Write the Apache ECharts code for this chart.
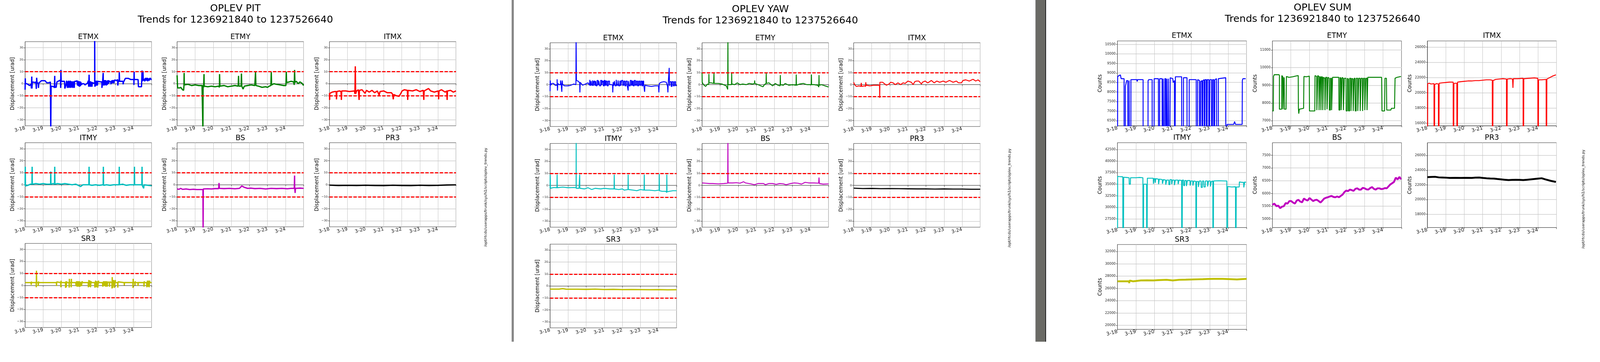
<!DOCTYPE html>
<html>
<head>
<meta charset="utf-8">
<script src="https://cdn.jsdelivr.net/npm/echarts@6/dist/echarts.min.js"></script>
<style>
html,body{margin:0;padding:0;background:#fff;overflow:hidden}
</style>
</head>
<body>
<div id="main"></div>
<script>
// labels / names
var dayLabels = ['3-18','3-19','3-20','3-21','3-22','3-23','3-24'];
var optics = ['ETMX','ETMY','ITMX','ITMY','BS','PR3','SR3'];
var opticColors = ['#0000ff','#008000','#ff0000','#00bfbf','#bf00bf','#000000','#bfbf00'];
var dofNames = ['PIT','YAW','SUM'];
var gpsStart = 1236921840, gpsEnd = 1237526640;
var scriptPath = '/opt/rtcds/userapps/trunk/sys/h1/scripts/oplev_trends.py';
var limitLines = [10, -10];
var dispRange = [-35, 35];
var dispTicks = [-30, -20, -10, 0, 10, 20, 30];
var sumMin = [6230, 6715, 15660, 25640, 4660, 16190, 19340];
var sumMax = [10680, 11506, 26810, 43960, 7990, 27740, 33140];
var sumStep = [500, 1000, 2000, 2500, 500, 2000, 2000];

// ---- PIT [day, urad] ----
var pitEtmx = [[0,-5],[0.01,4.5],[0.02,0],[0.1,0],[0.25,-1.5],[0.33,-0.5],[0.35,-0.5],[0.35,-4],[0.37,-4],[0.37,6],[0.38,6],[0.38,-4],[0.39,-4],[0.4,1.5],[0.55,1],[0.6,1.5],[0.62,1.5],[0.62,-4.3],[0.63,-4.3],[0.64,5],[0.65,5],[0.66,1],[0.72,0.5],[0.74,0.5],[0.74,-3.5],[0.75,-3.5],[0.76,0.5],[0.9,2.5],[1.1,2.5],[1.2,0.8],[1.33,0.8],[1.4,1.5],[1.42,1.5],[1.42,-40],[1.44,-40],[1.44,-2],[1.6,-2.5],[1.62,-3.5],[1.64,-3.5],[1.64,6.5],[1.65,6.5],[1.65,-3],[1.72,-3],[1.76,1.5],[1.95,3],[1.97,3],[1.97,-3.5],[1.98,-3.5],[1.98,11.5],[1.99,11.5],[2.0,2],[2.18,2],[2.2,2],[2.2,-4],[2.24,-4],[2.26,-1],[2.3,2.5],[2.34,2.5],[2.34,-3.5],[2.36,-3.5],[2.36,2],[2.38,2],[2.38,-3],[2.41,-3],[2.41,2.5],[2.43,2.5],[2.43,-3.5],[2.45,-3.5],[2.45,2],[2.48,2],[2.48,-3],[2.5,-3],[2.5,2.5],[2.53,2.5],[2.53,-3.5],[2.55,-3.5],[2.55,2],[2.58,2],[2.58,-3],[2.6,-3],[2.6,2],[2.64,2],[2.64,-3.5],[2.66,-3.5],[2.66,1.5],[2.72,1.5],[2.72,-3.5],[2.74,-3.5],[2.74,2],[2.8,2],[2.87,2.5],[2.9,2.5],[2.9,-1.5],[2.92,-1.5],[2.92,2.5],[2.96,2.5],[2.96,-2],[2.98,-2],[2.98,2],[3.01,2],[3.01,-2.5],[3.03,-2.5],[3.03,2],[3.06,2],[3.06,-2],[3.08,-2],[3.08,1.5],[3.12,1.5],[3.12,-1],[3.14,-1],[3.16,0],[3.25,0],[3.32,-1],[3.45,0.5],[3.5,2.5],[3.52,2.5],[3.52,-2.5],[3.53,-2.5],[3.54,7.5],[3.55,7.5],[3.56,-2],[3.57,-2],[3.57,2],[3.6,2],[3.6,-2.5],[3.62,-2.5],[3.62,2],[3.65,2],[3.65,-2.5],[3.67,-2.5],[3.67,1.5],[3.7,1.5],[3.7,-2.5],[3.72,-2.5],[3.72,1],[3.78,0.5],[3.85,0.5],[3.85,40],[3.86,40],[3.86,-2.5],[3.87,-2.5],[3.87,2],[3.9,2],[3.9,-2],[3.92,-2],[3.92,2.5],[3.95,2.5],[3.95,-1.5],[3.97,-1.5],[3.97,2.5],[4.0,2.5],[4.0,-1.5],[4.02,-1.5],[4.02,2],[4.2,1.5],[4.25,1.5],[4.25,-3.5],[4.27,-3.5],[4.28,0],[4.32,0],[4.32,9],[4.33,9],[4.33,-1.5],[4.35,-1.5],[4.35,3],[4.38,3],[4.38,-1.5],[4.4,-1.5],[4.4,3],[4.43,3],[4.43,-1],[4.45,-1],[4.45,3],[4.49,3],[4.49,-1.5],[4.51,-1.5],[4.51,2.5],[4.55,2.5],[4.55,-1],[4.57,-1],[4.57,2.5],[4.62,2.5],[4.62,0],[4.64,0],[4.64,2.5],[4.7,1.5],[4.75,1.5],[4.75,-0.5],[4.77,-0.5],[4.77,2.5],[4.8,2.5],[4.8,0.5],[4.82,0.5],[4.82,3],[4.86,3],[4.86,0.5],[4.88,0.5],[4.88,3],[4.92,3],[4.92,0.5],[4.94,0.5],[4.94,3],[5.0,3],[5.05,2.5],[5.12,3.5],[5.13,3.5],[5.13,-1.5],[5.15,-1.5],[5.15,2],[5.2,2],[5.21,9.5],[5.22,9.5],[5.23,2],[5.35,2],[5.42,2],[5.42,-0.5],[5.45,-0.5],[5.45,1.5],[5.55,4.5],[5.7,4.5],[5.85,3.5],[6.02,3.5],[6.02,-1],[6.03,-1],[6.03,10],[6.04,10],[6.04,3.5],[6.2,3.5],[6.25,3.5],[6.27,-2.5],[6.44,-2.5],[6.45,1.5],[6.47,1.5],[6.47,11],[6.49,11],[6.49,2],[6.52,2],[6.52,10.5],[6.54,10.5],[6.54,2.5],[6.58,2.5],[6.58,4],[6.62,4],[6.62,2],[6.65,2],[6.65,4.5],[6.7,4.5],[6.7,2.5],[6.73,2.5],[6.73,4.5],[6.78,4.5],[6.78,2],[6.81,2],[6.81,4],[6.86,4],[6.86,2.5],[6.9,2.5],[6.9,4.5],[6.95,4.5],[6.95,3.5],[7.0,3.5]];
var pitEtmy = [[0,7],[0.03,-3.5],[0.15,-3.5],[0.2,-3],[0.3,-5],[0.36,-5.5],[0.38,-2],[0.39,9],[0.4,-1],[0.6,-0.5],[0.8,-1.5],[1.0,-1],[1.2,-1.5],[1.38,-1.5],[1.42,-1],[1.43,-40],[1.44,-1],[1.47,-3],[1.49,8],[1.5,-2],[1.7,-2.5],[1.9,-2],[2.1,-2.5],[2.3,-2],[2.34,-3],[2.35,8],[2.37,-2],[2.6,-1.5],[2.8,-2.5],[3.0,-2],[3.2,-1.5],[3.38,-2],[3.4,6.5],[3.42,-2],[3.54,-2],[3.56,8.5],[3.58,-2],[3.65,-4.5],[3.72,-2],[3.9,-1.5],[4.1,-1],[4.3,-1.5],[4.34,10],[4.36,-1.5],[4.5,-2],[4.7,-3],[4.9,-2.5],[5.0,-3],[5.1,-2],[5.19,-1.5],[5.21,9.5],[5.23,-1],[5.35,0],[5.5,-0.5],[5.7,-1],[5.9,-1.5],[6.02,-1.5],[6.04,10],[6.06,1],[6.2,1.5],[6.3,2],[6.45,1.5],[6.48,-1],[6.5,11.5],[6.52,1],[6.6,2],[6.7,0],[6.8,1.5],[6.9,0.5],[7.0,-1.5]];
var pitItmx = [[0,-8],[0.01,-13.5],[0.02,-8],[0.15,-7],[0.3,-6.5],[0.37,-6.5],[0.39,-13],[0.41,-6.5],[0.55,-6],[0.64,-6.5],[0.66,-13.5],[0.68,-6],[0.9,-6],[1.1,-6.5],[1.38,-6],[1.41,-8.5],[1.43,14.5],[1.45,-8.5],[1.5,-6],[1.6,-5],[1.64,-13.5],[1.66,-5.5],[1.8,-5],[1.97,-8],[2.05,-5.5],[2.2,-7],[2.35,-5.5],[2.5,-7.5],[2.65,-6],[2.75,-9.5],[2.8,-6.5],[3.0,-6],[3.2,-7.5],[3.43,-7.5],[3.5,-9],[3.53,-13],[3.56,-9],[3.7,-10],[3.85,-10.5],[3.95,-8],[4.02,-6],[4.15,-5],[4.31,-5.5],[4.33,-13.5],[4.35,-5.5],[4.6,-6],[4.8,-5],[5.0,-6.5],[5.19,-5.5],[5.22,-13.5],[5.24,-6],[5.48,-4],[5.6,-6],[5.8,-7],[6.02,-6],[6.04,-13],[6.06,-6],[6.2,-5],[6.4,-7],[6.49,-6],[6.51,-13.5],[6.53,-6],[6.7,-5.5],[6.85,-7],[7.0,-6]];
var pitItmy = [[0,-0.5],[0.01,15],[0.02,-1],[0.15,-0.5],[0.3,0.5],[0.38,0.5],[0.39,15],[0.4,0.5],[0.6,1],[0.8,0.5],[1.0,1],[1.2,0.5],[1.41,0.5],[1.42,11],[1.43,0.5],[1.55,1],[1.63,0.5],[1.64,15],[1.65,0.5],[1.8,1],[2.0,0.5],[2.2,1],[2.4,0.5],[2.6,0],[2.8,0.5],[2.95,-0.5],[3.07,-1.5],[3.2,0],[3.4,0],[3.53,0],[3.54,15],[3.55,0],[3.7,-0.5],[3.9,0],[4.1,-0.5],[4.32,0],[4.33,15],[4.34,-0.5],[4.5,0],[4.7,-0.5],[4.9,0],[5.2,0],[5.21,15],[5.22,0],[5.4,0.5],[5.6,-0.5],[5.8,0],[6.04,0],[6.05,15],[6.06,0],[6.2,0],[6.46,0],[6.47,15],[6.48,-0.5],[6.56,-3],[6.58,0],[6.8,-0.5],[7.0,-0.8]];
var pitBs = [[0,-3.5],[0.1,-3.8],[0.2,-3],[0.3,-3.8],[0.5,-3.5],[0.7,-4],[0.9,-3.7],[1.1,-4],[1.3,-4],[1.43,-4],[1.44,-40],[1.45,-3.5],[1.7,-3.3],[1.9,-3.5],[2.1,-3.2],[2.3,-3.2],[2.32,1.5],[2.34,-3],[2.6,-3.2],[2.9,-3],[3.2,-3.3],[3.45,-3],[3.58,-1],[3.7,-2],[3.9,-3],[4.1,-2.8],[4.3,-3.2],[4.6,-3],[4.9,-3.5],[5.2,-3],[5.5,-3.2],[5.8,-3],[6.1,-3.3],[6.3,-3],[6.48,-3],[6.5,7.7],[6.51,-3],[6.53,-6.8],[6.55,-3],[6.8,-2.8],[7.0,-3]];
var pitPr3 = [[0,-0.3],[0.5,-0.6],[1,-0.5],[1.5,-0.6],[2,-0.4],[2.5,-0.6],[3,-0.7],[3.5,-0.4],[4,-0.6],[4.5,-0.7],[5,-0.4],[5.5,-0.6],[6,-0.5],[6.5,-0.2],[7,-0.1]];
var pitSr3 = [[0,2.4],[0.33,2.4],[0.34,0.5],[0.35,3.2],[0.36,2.4],[0.61,2.4],[0.62,-1.5],[0.63,12.3],[0.64,2.4],[0.72,2.4],[0.73,-0.5],[0.74,3.3],[0.75,2.4],[1.73,2.4],[1.74,-0.5],[1.75,3],[1.76,2.4],[1.97,2.4],[1.98,-1.5],[1.99,4],[2.0,2.4],[2.23,2.4],[2.24,-2],[2.26,3.5],[2.28,-1.5],[2.3,3.5],[2.31,2.4],[2.43,2.4],[2.44,-1.8],[2.45,5.5],[2.46,2.4],[2.54,2.4],[2.55,-1.5],[2.56,5.5],[2.57,2.4],[2.8,2.4],[2.82,-0.5],[2.85,3.5],[2.88,-1],[2.92,3.5],[2.96,-1],[3.0,3.5],[3.04,-1],[3.08,3],[3.12,-0.5],[3.16,3.5],[3.17,2.4],[3.49,2.4],[3.5,-1.5],[3.53,4.5],[3.56,-1],[3.59,4],[3.62,-1.5],[3.65,3.5],[3.67,2.4],[3.85,2.4],[3.86,-1.8],[3.9,4],[3.94,-1.5],[3.98,3.5],[4.02,-1.8],[4.06,4],[4.08,2.4],[4.28,2.4],[4.3,-1],[4.34,3.5],[4.38,-0.5],[4.42,3.5],[4.46,-1],[4.5,3.5],[4.54,-1],[4.57,3],[4.58,2.4],[4.66,2.4],[4.67,-1],[4.68,3],[4.69,2.4],[4.8,2.4],[4.81,-2.5],[4.82,7],[4.84,-2],[4.9,4.5],[4.94,-2],[4.99,4.5],[5.0,2.4],[5.12,2.4],[5.13,-1.8],[5.14,3],[5.15,2.4],[5.48,2.4],[5.49,0],[5.5,2.5],[5.96,2.4],[5.97,-2],[5.98,5.5],[5.99,2.4],[6.07,2.4],[6.08,0],[6.09,3.5],[6.1,2.4],[6.24,2.4],[6.25,-0.5],[6.26,2.5],[6.27,2.4],[6.57,2.4],[6.58,-1],[6.59,3.5],[6.6,2.4],[6.72,2.4],[6.74,-1.5],[6.77,4],[6.8,-1],[6.83,4],[6.86,-1.5],[6.89,4],[6.9,2.4],[7,2.4]];

// ---- YAW [day, urad] ----
var yawEtmx = [[0,-5.5],[0.01,3.5],[0.02,3.5],[0.03,-0.5],[0.1,1],[0.2,1],[0.28,-0.5],[0.39,-0.5],[0.39,4.5],[0.4,4.5],[0.41,-5],[0.42,-5],[0.43,1],[0.5,0],[0.58,0],[0.58,3.5],[0.62,3.5],[0.62,-0.5],[0.64,-0.5],[0.65,-6],[0.66,-6],[0.67,3.5],[0.68,3.5],[0.7,0],[0.8,-1],[1.0,-1],[1.15,-0.5],[1.3,0.5],[1.43,0],[1.44,40],[1.45,40],[1.46,3.5],[1.55,3],[1.64,1.5],[1.65,-6.5],[1.66,-6.5],[1.67,2],[1.8,-0.5],[1.95,0.5],[2.1,1.5],[2.18,-0.5],[2.2,-0.5],[2.2,4],[2.23,4],[2.23,-1],[2.27,-1],[2.27,3],[2.3,3],[2.3,-0.5],[2.35,-0.5],[2.35,3.5],[2.39,3.5],[2.39,-1],[2.42,-1],[2.42,3],[2.47,3],[2.47,-0.5],[2.52,-0.5],[2.52,3],[2.55,3],[2.55,-1],[2.6,-1],[2.6,3.5],[2.66,3.5],[2.66,-0.5],[2.7,-0.5],[2.7,3],[2.74,3],[2.74,-1],[2.8,-1],[2.8,3.5],[2.86,3.5],[2.86,-0.5],[2.9,-0.5],[2.9,3],[2.95,3],[2.95,-1],[3.0,-1],[3.0,3.5],[3.05,3.5],[3.05,-0.5],[3.1,-0.5],[3.1,3],[3.16,3],[3.16,-1],[3.22,-1],[3.22,3],[3.29,3],[3.29,0],[3.4,0],[3.46,-0.5],[3.47,-6.5],[3.48,-6.5],[3.49,2],[3.52,2],[3.52,-1],[3.56,-1],[3.56,3],[3.6,3],[3.6,-1],[3.66,-1],[3.66,4],[3.7,4],[3.7,-0.5],[3.76,-0.5],[3.76,3.5],[3.8,3.5],[3.8,-1],[3.86,-1],[3.86,3],[3.92,3],[3.92,-1],[3.96,-1],[3.96,3.5],[4.02,3.5],[4.02,-0.5],[4.08,-0.5],[4.08,3],[4.14,3],[4.14,-1],[4.2,-1],[4.2,3],[4.27,3],[4.27,-1],[4.31,-1],[4.32,-5],[4.33,-5],[4.34,3],[4.38,3],[4.38,-1],[4.44,-1],[4.44,3.5],[4.5,3.5],[4.5,-0.5],[4.55,-0.5],[4.55,3],[4.6,3],[4.6,-1],[4.66,-1],[4.66,3.5],[4.72,3.5],[4.72,-0.5],[4.78,-0.5],[4.78,3],[4.84,3],[4.84,-1],[4.9,-1],[4.9,3],[4.96,3],[4.96,-0.5],[5.02,-0.5],[5.02,3],[5.08,3],[5.08,-1],[5.13,-1],[5.13,3],[5.18,3],[5.18,0],[5.21,0],[5.23,-6],[5.24,-6],[5.25,-0.5],[5.4,-1],[5.6,-1.5],[5.8,-1],[6.0,-1],[6.02,-6.5],[6.03,-6.5],[6.04,1],[6.15,2],[6.3,2.5],[6.43,2],[6.5,-1.5],[6.52,-6.5],[6.53,-6.5],[6.54,2],[6.58,2],[6.59,14],[6.6,14],[6.61,-1],[6.63,-1],[6.63,2.5],[6.7,2.5],[6.7,-1.5],[6.75,-1.5],[6.75,2.5],[6.82,2.5],[6.82,-1],[6.88,-1],[6.88,2.5],[6.94,2.5],[6.94,-1],[7.0,-0.5]];
var yawEtmy = [[0,10],[0.01,2],[0.08,0],[0.2,-1.5],[0.3,0.5],[0.37,0],[0.38,9],[0.39,1.5],[0.5,1.5],[0.64,1],[0.66,10],[0.67,1],[0.9,1],[1.1,0.5],[1.34,-1],[1.42,-4],[1.43,40],[1.44,0],[1.55,0],[1.63,0],[1.64,9.5],[1.65,0.5],[1.8,0],[1.95,1.5],[2.1,0],[2.25,0.5],[2.45,0],[2.6,1],[2.8,0.5],[2.9,1],[2.91,3.5],[2.92,1],[3.1,0],[3.25,-1],[3.37,-1.8],[3.45,0],[3.54,1],[3.55,9.5],[3.56,1],[3.7,1.5],[3.9,-1],[4.05,1],[4.2,-0.5],[4.32,-1],[4.33,8],[4.34,0],[4.5,-0.5],[4.6,1],[4.8,-0.5],[5.0,0],[5.2,-0.5],[5.21,8.5],[5.22,-0.5],[5.4,0.5],[5.6,1],[5.8,0],[6.04,0],[6.05,8.5],[6.06,0],[6.2,0],[6.4,-0.5],[6.46,-2],[6.47,8],[6.48,-0.5],[6.6,0],[6.8,-1],[7.0,-2]];
var yawItmx = [[0,2],[0.05,0],[0.15,-1.5],[0.3,-1],[0.4,-1.5],[0.42,1.5],[0.44,-1.5],[0.6,-1],[0.66,-1.5],[0.67,2],[0.69,-0.5],[0.9,-1],[1.1,-0.5],[1.35,-0.5],[1.43,-0.8],[1.44,-11],[1.45,2],[1.6,2],[1.81,-0.5],[1.95,0.5],[2.05,2],[2.18,1.5],[2.3,0],[2.45,1.5],[2.6,0],[2.73,1.5],[2.85,1],[3.0,3],[3.19,2],[3.29,0],[3.38,2.5],[3.47,3],[3.6,3],[3.75,0.5],[3.8,2],[3.95,3],[4.1,1.5],[4.3,3.5],[4.45,1.5],[4.6,3],[4.76,2],[4.95,3],[5.1,2],[5.3,3.5],[5.5,2],[5.68,3],[5.8,1.5],[5.96,1.5],[6.05,3.5],[6.2,4],[6.4,3],[6.6,4.5],[6.75,3],[6.88,4],[7.0,2.5]];
var yawItmy = [[0,-2.5],[0.01,9],[0.02,-2.5],[0.2,-1.8],[0.38,-2],[0.39,9],[0.4,-2],[0.7,-1.5],[1.0,-2],[1.3,-1.8],[1.44,-2],[1.445,40],[1.45,-2.5],[1.6,-2.5],[1.63,-2.5],[1.64,9],[1.65,-2.5],[1.9,-3],[2.1,-2],[2.3,-3.5],[2.5,-2.5],[2.8,-3],[3.0,-2.5],[3.3,-3],[3.54,-3],[3.55,9],[3.56,-3],[3.8,-3.5],[4.0,-3],[4.1,-4],[4.31,-3.5],[4.32,9],[4.33,-3.5],[4.6,-4],[4.8,-4.5],[5.0,-3.5],[5.2,-4],[5.21,9],[5.22,-4],[5.5,-4],[5.8,-4.5],[6.03,-4],[6.04,9.5],[6.05,-4.5],[6.2,-5],[6.4,-5],[6.45,-6],[6.46,9],[6.47,-5.5],[6.6,-5],[6.8,-4.5],[7.0,-4.5]];
var yawBs = [[0,2],[0.2,1.8],[0.4,1.5],[0.6,1.5],[0.9,1.2],[1.2,1.5],[1.42,1.8],[1.43,40],[1.44,2],[1.7,2],[1.9,2.2],[2.1,1.8],[2.3,3],[2.4,2],[2.7,1.2],[2.9,0.5],[3.1,1.5],[3.4,1.5],[3.5,0.5],[3.7,1.5],[3.9,1.5],[4.1,0.8],[4.3,1.5],[4.5,1.2],[4.65,0.5],[4.9,1.5],[5.1,2],[5.3,1.8],[5.5,1],[5.7,2.5],[5.9,2],[6.2,2],[6.45,1.8],[6.47,6.5],[6.49,1.5],[6.7,1],[7.0,1.2]];
var yawPr3 = [[0,-2.4],[0.5,-2.7],[1,-2.6],[1.5,-2.8],[2,-2.7],[2.5,-2.8],[3,-2.9],[3.5,-3.0],[4,-3.0],[4.5,-3.1],[5,-3.0],[5.5,-3.1],[6,-3.1],[6.5,-3.3],[7,-3.3]];
var yawSr3 = [[0,-2.6],[0.5,-2.6],[0.7,-2.2],[0.9,-2.7],[1.5,-2.7],[2,-2.8],[2.5,-2.6],[3,-2.9],[3.5,-2.8],[4,-3.0],[4.5,-2.9],[5,-3.0],[5.5,-3.1],[6,-3.0],[6.5,-3.2],[7,-3.1]];

// ---- SUM [day, counts] (0 = dropout, below axis) ----
var sumEtmx = [[0,0],[0.01,8800],[0.06,8850],[0.16,8900],[0.2,8700],[0.36,8700],[0.36,0],[0.42,0],[0.43,8300],[0.5,8600],[0.56,8600],[0.57,0],[0.62,0],[0.63,8600],[0.66,8600],[0.67,0],[0.72,0],[0.73,8650],[1.05,8650],[1.07,8550],[1.09,8650],[1.39,8650],[1.39,0],[1.65,0],[1.66,8600],[1.7,8650],[1.88,8650],[1.89,0],[1.98,0],[1.99,8700],[2.22,8700],[2.23,0],[2.28,0],[2.29,8700],[2.42,8700],[2.43,0],[2.47,0],[2.48,8700],[2.52,8700],[2.53,0],[2.56,0],[2.57,8700],[2.62,8700],[2.63,0],[2.67,0],[2.68,8700],[2.72,0],[2.75,0],[2.76,8700],[2.8,8700],[2.81,0],[2.85,0],[2.86,8750],[3.0,8700],[3.02,8500],[3.09,8600],[3.1,0],[3.13,0],[3.14,8800],[3.48,8800],[3.49,0],[3.57,0],[3.58,8750],[3.77,8750],[3.78,0],[3.88,0],[3.89,8650],[4.27,8650],[4.28,0],[4.34,0],[4.35,8650],[4.45,8600],[4.46,0],[4.5,0],[4.51,8550],[4.58,8600],[4.59,0],[4.62,0],[4.63,8600],[4.7,8650],[4.71,0],[4.74,0],[4.75,8650],[4.82,8650],[4.83,0],[4.86,0],[4.87,8650],[4.95,8650],[4.96,0],[5.0,0],[5.01,8650],[5.1,8650],[5.11,0],[5.15,0],[5.16,8650],[5.22,8650],[5.23,0],[5.27,0],[5.28,8650],[5.37,8700],[5.38,0],[5.46,0],[5.47,8700],[5.87,8750],[5.88,0],[5.93,0],[5.94,6300],[6.3,6300],[6.35,6450],[6.4,6300],[6.76,6300],[6.77,8600],[6.8,8700],[6.95,8700]];
var sumEtmy = [[0,7550],[0.05,7550],[0.06,9500],[0.1,9600],[0.36,9600],[0.38,9550],[0.38,7650],[0.5,7650],[0.51,9550],[0.56,9500],[0.57,7650],[0.61,7650],[0.62,9450],[0.64,9400],[0.65,7650],[0.74,7650],[0.76,9500],[0.9,9450],[1.1,9480],[1.3,9530],[1.4,9550],[1.41,7700],[1.43,7400],[1.46,7650],[1.69,7700],[1.71,9500],[1.85,9480],[2.0,9520],[2.01,7550],[2.3,7550],[2.31,9550],[2.4,9500],[2.41,7600],[2.45,7600],[2.46,9550],[2.52,9500],[2.53,7600],[2.57,7600],[2.58,9500],[2.62,9450],[2.63,7600],[2.66,7600],[2.67,9500],[2.72,9450],[2.73,7600],[2.76,7600],[2.77,9450],[2.84,9400],[2.85,7600],[2.88,7600],[2.89,9450],[2.95,9450],[2.96,7650],[3.0,7650],[3.01,9450],[3.08,9400],[3.09,7600],[3.14,7600],[3.15,9400],[3.2,9400],[3.21,7600],[3.25,7600],[3.26,9450],[3.6,9450],[3.61,7600],[3.66,7600],[3.67,9450],[3.72,9400],[3.73,7600],[3.77,7600],[3.78,9450],[3.84,9400],[3.85,7600],[3.89,7600],[3.9,9400],[3.99,9400],[4.0,7550],[4.06,7550],[4.07,9400],[4.12,9350],[4.13,7550],[4.18,7550],[4.19,9400],[4.25,9400],[4.26,7550],[4.3,7550],[4.31,9400],[4.37,9350],[4.38,7550],[4.42,7550],[4.43,9400],[4.48,9400],[4.49,7550],[4.54,7550],[4.55,9400],[4.62,9400],[4.63,7550],[4.67,7550],[4.68,9400],[4.75,9400],[4.76,7550],[4.8,7550],[4.81,9400],[4.88,9400],[4.89,7550],[4.93,7550],[4.94,9400],[5.0,9400],[5.01,7600],[5.05,7600],[5.06,9400],[5.12,9400],[5.13,7600],[5.16,7600],[5.17,9450],[5.92,9450],[5.94,7550],[6.08,7550],[6.1,9400],[6.18,9400],[6.2,7600],[6.42,7600],[6.45,7700],[6.62,7700],[6.65,9400],[6.75,9450],[6.97,9500]];
var sumItmx = [[0,0],[0.02,21200],[0.1,21250],[0.2,21150],[0.36,21200],[0.37,0],[0.39,0],[0.4,21100],[0.5,21200],[0.6,21150],[0.61,0],[0.63,0],[0.64,21250],[0.8,21300],[1.0,21350],[1.2,21400],[1.4,21400],[1.41,0],[1.43,0],[1.44,21200],[1.5,21250],[1.6,21250],[1.61,0],[1.63,0],[1.64,21400],[1.8,21450],[2.0,21500],[2.2,21550],[2.4,21550],[2.6,21600],[2.8,21600],[3.0,21650],[3.2,21700],[3.4,21700],[3.52,21650],[3.53,0],[3.55,0],[3.56,21600],[3.7,21750],[3.9,21800],[4.1,21850],[4.29,21800],[4.3,0],[4.32,0],[4.33,21800],[4.5,21850],[4.62,21800],[4.64,20650],[4.66,21850],[4.9,21850],[5.19,21900],[5.2,0],[5.22,0],[5.23,21850],[5.5,21900],[5.8,21950],[5.99,21900],[6.0,0],[6.02,0],[6.03,21700],[6.2,21700],[6.44,21750],[6.45,0],[6.47,0],[6.48,21800],[6.6,21950],[6.8,22200],[6.97,22350]];
var sumItmy = [[0,0],[0.01,36700],[0.1,36650],[0.29,36600],[0.3,0],[0.33,0],[0.34,36500],[0.5,36450],[0.63,36400],[0.64,35000],[0.7,35000],[0.71,36400],[1.0,36400],[1.2,36450],[1.38,36400],[1.39,0],[1.41,0],[1.42,35000],[1.58,35000],[1.59,0],[1.61,0],[1.62,36300],[1.94,36300],[1.95,35100],[1.98,35100],[1.99,36200],[2.04,36200],[2.05,35300],[2.07,35300],[2.08,36200],[2.22,36100],[2.23,35000],[2.26,35000],[2.27,36100],[2.43,36000],[2.44,35100],[2.48,35100],[2.49,36000],[2.61,35900],[2.62,34900],[2.66,34900],[2.67,35900],[2.78,35900],[2.79,34900],[2.84,34900],[2.85,36000],[2.93,36000],[2.94,35000],[2.97,35000],[2.98,35900],[3.08,35900],[3.09,34800],[3.13,34800],[3.14,35900],[3.28,35900],[3.29,35000],[3.33,35000],[3.34,35900],[3.48,35800],[3.49,0],[3.51,0],[3.52,35900],[3.58,35900],[3.59,34700],[3.64,34700],[3.65,35800],[3.73,35800],[3.74,34600],[3.78,34600],[3.79,35800],[3.93,35800],[3.94,34700],[3.98,34700],[3.99,35700],[4.08,35700],[4.09,34700],[4.13,34700],[4.14,35700],[4.25,35600],[4.26,0],[4.28,0],[4.29,35600],[4.38,35600],[4.39,34400],[4.43,34400],[4.44,35700],[4.53,35700],[4.54,34300],[4.6,34300],[4.61,35700],[4.68,35700],[4.69,34400],[4.76,34400],[4.77,35700],[4.88,35700],[4.89,34500],[4.93,34500],[4.94,35700],[5.03,35700],[5.04,34500],[5.08,34500],[5.09,35600],[5.17,35700],[5.18,0],[5.2,0],[5.21,35700],[5.5,35750],[5.8,35700],[5.93,35700],[5.94,0],[5.96,0],[5.97,34500],[6.2,34400],[6.4,34450],[6.41,0],[6.43,0],[6.44,34400],[6.6,34400],[6.61,35500],[6.75,35400],[6.84,35400],[6.85,34300],[6.89,34300],[6.9,35500],[6.97,35400]];
var sumBs = [[0,5550],[0.1,5600],[0.22,5500],[0.32,5520],[0.42,5420],[0.52,5480],[0.62,5500],[0.72,5620],[0.82,5600],[0.92,5700],[1.02,5700],[1.12,5640],[1.22,5600],[1.32,5720],[1.41,5750],[1.51,5680],[1.61,5650],[1.71,5800],[1.81,5750],[1.91,5720],[2.01,5820],[2.11,5760],[2.21,5700],[2.31,5740],[2.41,5750],[2.51,5700],[2.61,5640],[2.71,5720],[2.81,5800],[2.91,5830],[3.01,5850],[3.11,5880],[3.21,5900],[3.31,5860],[3.41,5850],[3.51,5880],[3.61,5850],[3.7,5900],[3.8,5950],[3.9,6050],[4.0,6110],[4.1,6090],[4.2,6150],[4.3,6130],[4.4,6100],[4.5,6180],[4.6,6200],[4.7,6150],[4.8,6150],[4.9,6220],[5.0,6200],[5.1,6160],[5.2,6150],[5.3,6210],[5.4,6250],[5.5,6180],[5.6,6150],[5.7,6200],[5.8,6200],[5.9,6170],[6.0,6180],[6.1,6210],[6.2,6200],[6.3,6280],[6.39,6350],[6.49,6400],[6.59,6450],[6.69,6620],[6.79,6550],[6.89,6650],[6.97,6550]];
var sumPr3 = [[0,23050],[0.2,23080],[0.42,23100],[0.62,23020],[0.82,23000],[1.02,22980],[1.22,22950],[1.5,22960],[1.81,22950],[2.1,22960],[2.41,22950],[2.6,22990],[2.81,23000],[3.0,22950],[3.21,22900],[3.41,22870],[3.61,22850],[3.8,22800],[4.0,22750],[4.2,22700],[4.4,22650],[4.6,22680],[4.8,22700],[5.0,22680],[5.2,22650],[5.4,22700],[5.6,22750],[5.8,22800],[6.0,22850],[6.2,22900],[6.39,22750],[6.69,22550],[6.97,22400]];
var sumSr3 = [[0,27150],[0.3,27150],[0.58,27150],[0.63,27150],[0.64,26850],[0.65,27250],[0.7,27250],[0.85,27150],[1.0,27200],[1.27,27300],[1.6,27320],[1.96,27300],[2.2,27350],[2.66,27400],[3.0,27300],[3.35,27400],[3.7,27420],[4.05,27450],[4.35,27480],[4.63,27500],[4.9,27530],[5.21,27550],[5.7,27550],[6.13,27500],[6.48,27450],[6.7,27500],[7.0,27550]];

var panelData = [
  [pitEtmx, pitEtmy, pitItmx, pitItmy, pitBs, pitPr3, pitSr3],
  [yawEtmx, yawEtmy, yawItmx, yawItmy, yawBs, yawPr3, yawSr3],
  [sumEtmx, sumEtmy, sumItmx, sumItmy, sumBs, sumPr3, sumSr3]
];

// ---- layout (reference pixels, scaled to the real viewport below) ----
var layout = [
  {lefts:[68,480,893], tops:[113,387,660], w:343, h:228, titleX:638, titleY:[24,54], pathX:1317, pathY:535, lw:[3.5,3.5,3.5,3.5,3.5,3.5,3.5], nameGap:27, ylab:'Displacement [urad]', yfs:8, xfs:13},
  {lefts:[1491,1903,2314], tops:[116,389,662], w:343, h:227, titleX:2061, titleY:[26,56], pathX:2737, pathY:537, lw:[2.5,2.5,2.5,2.5,2.5,3,3.5], nameGap:27, ylab:'Displacement [urad]', yfs:8, xfs:13},
  {lefts:[3029,3449,3869], tops:[111,387,663], w:350, h:230, titleX:3585, titleY:[22,52], pathX:4292, pathY:540, lw:[2.5,2.5,2.5,2.5,5,5,5], nameGap:40, ylab:'Counts', yfs:9, xfs:13.5}
];
var cellPos = [[0,0],[0,1],[0,2],[1,0],[1,1],[1,2],[2,0]];

var FONT = 'DejaVu Sans';
var REF_W = 4337, REF_H = 927;
var S = Math.min(window.innerWidth / REF_W, window.innerHeight / REF_H) || 1;
function u(v){ return v * S; }

function minus(v){ return String(v).replace('-', '\u2212'); }
function stepTicks(lo, hi, step){
  var out = [];
  for (var t = Math.ceil(lo / step) * step; t <= hi; t += step) out.push(t);
  return out;
}
function txt(x, y, str, size, rot){
  var el = {type:'text', x:u(x), y:u(y), style:{text:str, font:u(size) + 'px ' + FONT, fill:'#000', align:'center', verticalAlign:'middle'}};
  if (rot) el.rotation = rot;
  return el;
}

function buildOption(){
  var grids = [], xAxes = [], yAxes = [], series = [], gfx = [];
  for (var p = 0; p < 3; p++) {
    var L = layout[p];
    gfx.push(txt(L.titleX, L.titleY[0], 'OPLEV ' + dofNames[p], 27));
    gfx.push(txt(L.titleX, L.titleY[1], 'Trends for ' + gpsStart + ' to ' + gpsEnd, 27));
    gfx.push(txt(L.pathX, L.pathY, scriptPath, 9.5, Math.PI / 2));

    for (var i = 0; i < 7; i++) {
      var k = grids.length;
      var gLeft = L.lefts[cellPos[i][1]], gTop = L.tops[cellPos[i][0]];
      grids.push({left:u(gLeft), top:u(gTop), width:u(L.w), height:u(L.h), show:true, borderColor:'#3a3a3a', borderWidth:1, backgroundColor:'#fff'});
      gfx.push(txt(gLeft + L.w / 2, gTop - (p === 2 ? 13 : 12), optics[i], 20));

      xAxes.push({
        type:'value', gridIndex:k, min:0, max:7, interval:1,
        axisLine:{show:true, lineStyle:{color:'#3a3a3a', width:1}},
        axisTick:{show:true, length:u(4), lineStyle:{color:'#3a3a3a'}},
        axisLabel:{show:true, rotate:15, margin:u(6), fontSize:u(L.xfs), fontFamily:FONT, color:'#111',
          formatter:function(v){ return dayLabels[Math.round(v)] || ''; }},
        splitLine:{show:true, lineStyle:{color:'#c4c4c4', width:1}}
      });

      var ymin, ymax, yt;
      if (p < 2) { ymin = dispRange[0]; ymax = dispRange[1]; yt = dispTicks; }
      else { ymin = sumMin[i]; ymax = sumMax[i]; yt = stepTicks(sumMin[i], sumMax[i], sumStep[i]); }
      yAxes.push({
        type:'value', gridIndex:k, min:ymin, max:ymax,
        name:L.ylab, nameLocation:'middle', nameRotate:90, nameGap:u(L.nameGap),
        nameTextStyle:{fontSize:u(14), fontFamily:FONT, color:'#000'},
        axisLine:{show:true, lineStyle:{color:'#3a3a3a', width:1}},
        axisTick:{show:true, length:u(4), customValues:yt, lineStyle:{color:'#3a3a3a'}},
        axisLabel:{show:true, margin:u(5), fontSize:u(L.yfs), fontFamily:FONT, color:'#222', customValues:yt,
          formatter:function(v){ return minus(v); }},
        splitLine:{show:true, lineStyle:{color:'#d9d9d9', width:u(2)}}
      });

      var s = {
        type:'line', xAxisIndex:k, yAxisIndex:k, data:panelData[p][i],
        showSymbol:false, symbol:'none', clip:true, animation:false, silent:true,
        lineStyle:{color:opticColors[i], width:u(L.lw[i])}, itemStyle:{color:opticColors[i]}
      };
      if (p < 2) {
        s.markLine = {silent:true, symbol:['none','none'], animation:false, label:{show:false},
          lineStyle:{color:'#ff0000', type:[u(9), u(4)], width:u(3)},
          data:limitLines.map(function(v){ return {yAxis:v}; })};
      }
      series.push(s);
    }
  }

  // panel separators
  var seps = [[1387.5,1.5,'#222'],[1390,2.5,'#6a6a6a'],[2807,1.5,'#333'],[2808.5,24.5,'#6a6a65'],[2833,2.5,'#1a1a1a']];
  seps.forEach(function(d){
    gfx.push({type:'rect', shape:{x:u(d[0]), y:0, width:u(d[1]), height:u(REF_H)}, style:{fill:d[2]}});
  });

  return {
    animation:false,
    backgroundColor:'#ffffff',
    textStyle:{fontFamily:FONT},
    grid:grids, xAxis:xAxes, yAxis:yAxes, series:series,
    graphic:{elements:gfx}
  };
}

var box = document.getElementById('main');
box.style.width = Math.floor(u(REF_W)) + 'px';
box.style.height = Math.floor(u(REF_H)) + 'px';
var chart = echarts.init(box);
chart.setOption(buildOption());
</script>
</body>
</html>
